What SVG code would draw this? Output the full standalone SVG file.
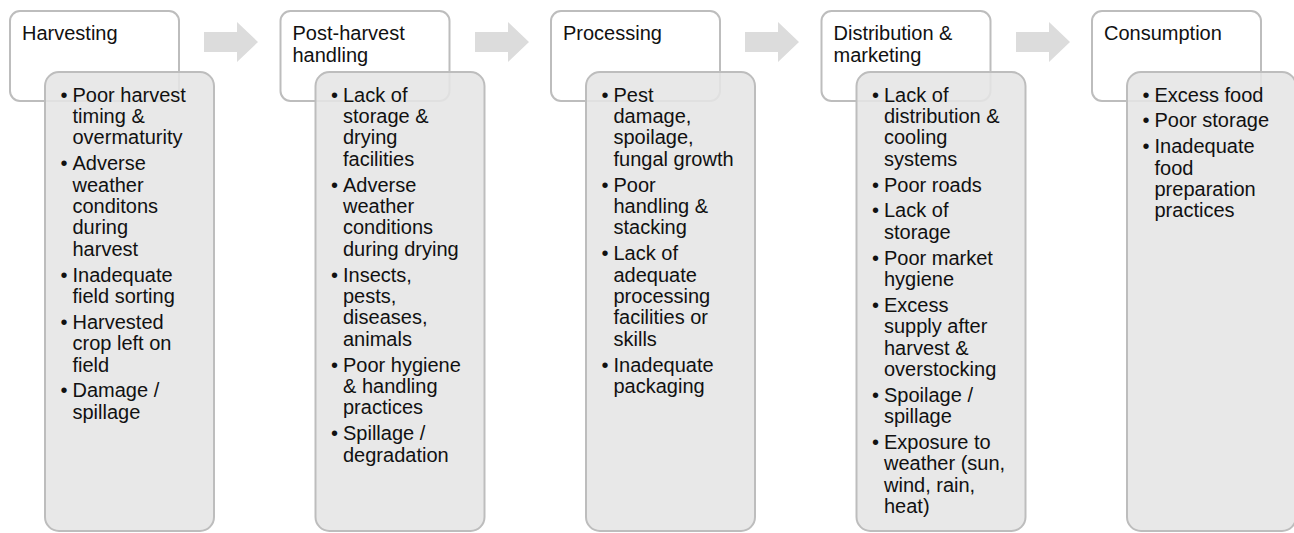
<svg xmlns="http://www.w3.org/2000/svg" width="1294" height="533" viewBox="0 0 1294 533">
<style>
.hd{fill:#ffffff;stroke:#bdbdbd;stroke-width:2}
.bd{fill:#e5e5e5;fill-opacity:0.88;stroke:#bdbdbd;stroke-width:2}
text{font-family:"Liberation Sans",Arial,sans-serif;font-size:20px;fill:#111111}
.arr{fill:#dcdcdc}
</style>
<rect width="1294" height="533" fill="#ffffff"/>
<g id="connectors">
<polygon class="arr" points="204,32 237,32 237,22 258,42 237,62 237,52 204,52"/>
<polygon class="arr" points="475,32 508,32 508,22 529,42 508,62 508,52 475,52"/>
<polygon class="arr" points="745,32 778,32 778,22 799,42 778,62 778,52 745,52"/>
<polygon class="arr" points="1016,32 1049,32 1049,22 1070,42 1049,62 1049,52 1016,52"/>
</g>
<g id="harvesting">
<rect class="hd" x="10" y="11" width="169" height="90" rx="10"/>
<text x="22" y="40">Harvesting</text>
<rect class="bd" x="45" y="72" width="169" height="459" rx="14"/>
<text y="101.5"><tspan x="60.5">•</tspan><tspan x="72.5">Poor harvest</tspan><tspan x="72.5" dy="21.4">timing &amp;</tspan><tspan x="72.5" dy="21.4">overmaturity</tspan></text>
<text y="170.1"><tspan x="60.5">•</tspan><tspan x="72.5">Adverse</tspan><tspan x="72.5" dy="21.4">weather</tspan><tspan x="72.5" dy="21.4">conditons</tspan><tspan x="72.5" dy="21.4">during</tspan><tspan x="72.5" dy="21.4">harvest</tspan></text>
<text y="281.5"><tspan x="60.5">•</tspan><tspan x="72.5">Inadequate</tspan><tspan x="72.5" dy="21.4">field sorting</tspan></text>
<text y="328.7"><tspan x="60.5">•</tspan><tspan x="72.5">Harvested</tspan><tspan x="72.5" dy="21.4">crop left on</tspan><tspan x="72.5" dy="21.4">field</tspan></text>
<text y="397.3"><tspan x="60.5">•</tspan><tspan x="72.5">Damage /</tspan><tspan x="72.5" dy="21.4">spillage</tspan></text>
</g>
<g id="post-harvest">
<rect class="hd" x="280.5" y="11" width="169" height="90" rx="10"/>
<text x="292.5" y="40">Post-harvest<tspan x="292.5" dy="21.6">handling</tspan></text>
<rect class="bd" x="315.5" y="72" width="169" height="459" rx="14"/>
<text y="101.5"><tspan x="331">•</tspan><tspan x="343">Lack of</tspan><tspan x="343" dy="21.4">storage &amp;</tspan><tspan x="343" dy="21.4">drying</tspan><tspan x="343" dy="21.4">facilities</tspan></text>
<text y="191.5"><tspan x="331">•</tspan><tspan x="343">Adverse</tspan><tspan x="343" dy="21.4">weather</tspan><tspan x="343" dy="21.4">conditions</tspan><tspan x="343" dy="21.4">during drying</tspan></text>
<text y="281.5"><tspan x="331">•</tspan><tspan x="343">Insects,</tspan><tspan x="343" dy="21.4">pests,</tspan><tspan x="343" dy="21.4">diseases,</tspan><tspan x="343" dy="21.4">animals</tspan></text>
<text y="371.5"><tspan x="331">•</tspan><tspan x="343">Poor hygiene</tspan><tspan x="343" dy="21.4">&amp; handling</tspan><tspan x="343" dy="21.4">practices</tspan></text>
<text y="440.1"><tspan x="331">•</tspan><tspan x="343">Spillage /</tspan><tspan x="343" dy="21.4">degradation</tspan></text>
</g>
<g id="processing">
<rect class="hd" x="551" y="11" width="169" height="90" rx="10"/>
<text x="563" y="40">Processing</text>
<rect class="bd" x="586" y="72" width="169" height="459" rx="14"/>
<text y="101.5"><tspan x="601.5">•</tspan><tspan x="613.5">Pest</tspan><tspan x="613.5" dy="21.4">damage,</tspan><tspan x="613.5" dy="21.4">spoilage,</tspan><tspan x="613.5" dy="21.4">fungal growth</tspan></text>
<text y="191.5"><tspan x="601.5">•</tspan><tspan x="613.5">Poor</tspan><tspan x="613.5" dy="21.4">handling &amp;</tspan><tspan x="613.5" dy="21.4">stacking</tspan></text>
<text y="260.1"><tspan x="601.5">•</tspan><tspan x="613.5">Lack of</tspan><tspan x="613.5" dy="21.4">adequate</tspan><tspan x="613.5" dy="21.4">processing</tspan><tspan x="613.5" dy="21.4">facilities or</tspan><tspan x="613.5" dy="21.4">skills</tspan></text>
<text y="371.5"><tspan x="601.5">•</tspan><tspan x="613.5">Inadequate</tspan><tspan x="613.5" dy="21.4">packaging</tspan></text>
</g>
<g id="distribution">
<rect class="hd" x="821.5" y="11" width="169" height="90" rx="10"/>
<text x="833.5" y="40">Distribution &amp;<tspan x="833.5" dy="21.6">marketing</tspan></text>
<rect class="bd" x="856.5" y="72" width="169" height="459" rx="14"/>
<text y="101.5"><tspan x="872">•</tspan><tspan x="884">Lack of</tspan><tspan x="884" dy="21.4">distribution &amp;</tspan><tspan x="884" dy="21.4">cooling</tspan><tspan x="884" dy="21.4">systems</tspan></text>
<text y="191.5"><tspan x="872">•</tspan><tspan x="884">Poor roads</tspan></text>
<text y="217.3"><tspan x="872">•</tspan><tspan x="884">Lack of</tspan><tspan x="884" dy="21.4">storage</tspan></text>
<text y="264.5"><tspan x="872">•</tspan><tspan x="884">Poor market</tspan><tspan x="884" dy="21.4">hygiene</tspan></text>
<text y="311.7"><tspan x="872">•</tspan><tspan x="884">Excess</tspan><tspan x="884" dy="21.4">supply after</tspan><tspan x="884" dy="21.4">harvest &amp;</tspan><tspan x="884" dy="21.4">overstocking</tspan></text>
<text y="401.7"><tspan x="872">•</tspan><tspan x="884">Spoilage /</tspan><tspan x="884" dy="21.4">spillage</tspan></text>
<text y="448.9"><tspan x="872">•</tspan><tspan x="884">Exposure to</tspan><tspan x="884" dy="21.4">weather (sun,</tspan><tspan x="884" dy="21.4">wind, rain,</tspan><tspan x="884" dy="21.4">heat)</tspan></text>
</g>
<g id="consumption">
<rect class="hd" x="1092" y="11" width="169" height="90" rx="10"/>
<text x="1104" y="40">Consumption</text>
<rect class="bd" x="1127" y="72" width="169" height="459" rx="14"/>
<text y="101.5"><tspan x="1142.5">•</tspan><tspan x="1154.5">Excess food</tspan></text>
<text y="127.3"><tspan x="1142.5">•</tspan><tspan x="1154.5">Poor storage</tspan></text>
<text y="153.1"><tspan x="1142.5">•</tspan><tspan x="1154.5">Inadequate</tspan><tspan x="1154.5" dy="21.4">food</tspan><tspan x="1154.5" dy="21.4">preparation</tspan><tspan x="1154.5" dy="21.4">practices</tspan></text>
</g>
</svg>
